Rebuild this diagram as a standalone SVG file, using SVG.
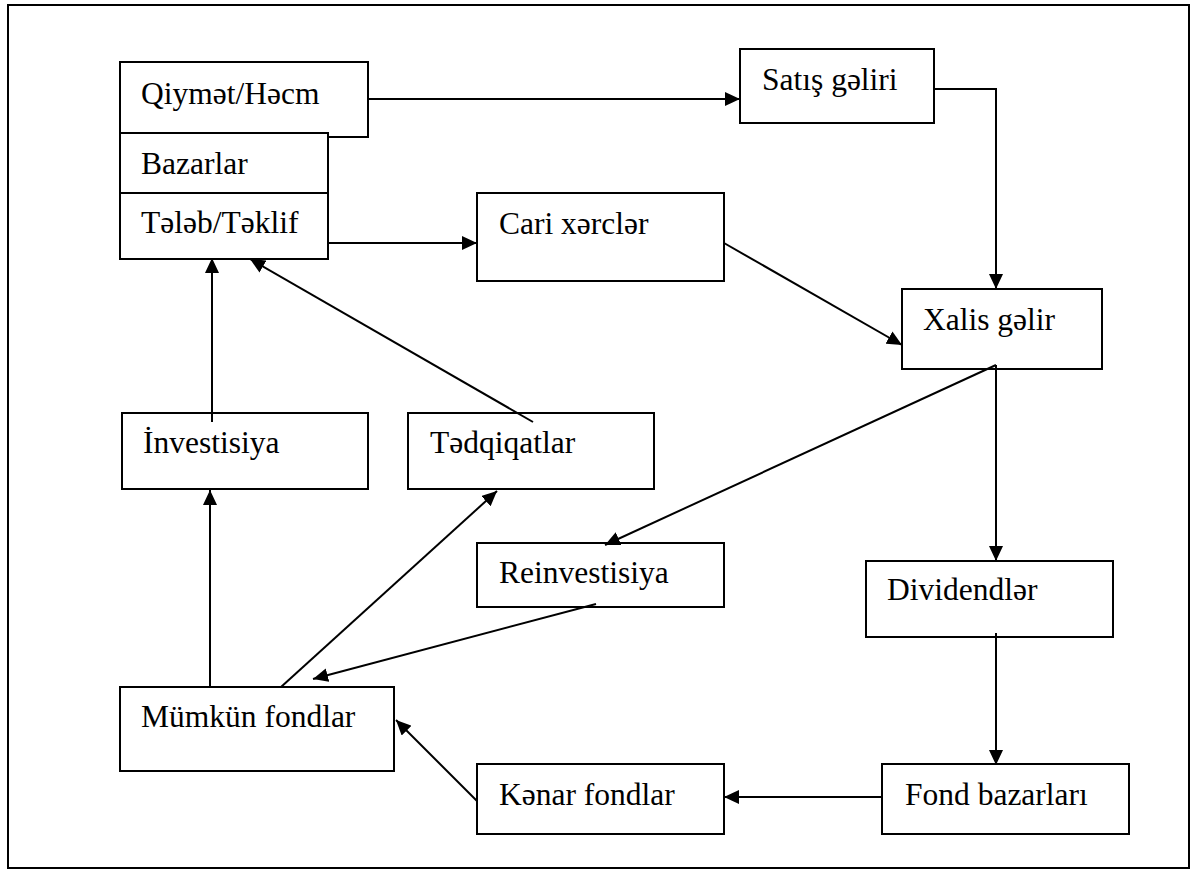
<svg xmlns="http://www.w3.org/2000/svg" width="1195" height="870" viewBox="0 0 1195 870">
<style>
rect.b{fill:#fff;stroke:#000;stroke-width:2}
text{font-family:"Liberation Serif","Times New Roman",serif;font-size:31.5px;fill:#000}
.c line,.c polyline{stroke:#000;stroke-width:2;fill:none}
</style>
<defs>
<marker id="ah" markerUnits="userSpaceOnUse" markerWidth="16" markerHeight="14" refX="15" refY="7" orient="auto">
<path d="M0,0 L15,7 L0,14 z" fill="#000"/>
</marker>
</defs>
<rect x="0" y="0" width="1195" height="870" fill="#fff"/>
<rect x="8" y="5" width="1181" height="863" fill="none" stroke="#000" stroke-width="2"/>
<g id="qiymet"><rect class="b" x="120" y="62" width="248" height="75"/><text x="141" y="104">Qiymət/Həcm</text></g>
<g id="bazarlar"><rect class="b" x="120" y="133" width="208" height="60"/><text x="141" y="174">Bazarlar</text></g>
<g id="teleb"><rect class="b" x="120" y="193" width="208" height="66"/><text x="141" y="233">Tələb/Təklif</text></g>
<g id="satis"><rect class="b" x="740" y="49" width="194" height="74"/><text x="762" y="90">Satış gəliri</text></g>
<g id="cari"><rect class="b" x="477" y="193" width="247" height="88"/><text x="499" y="234">Cari xərclər</text></g>
<g id="xalis"><rect class="b" x="902" y="289" width="200" height="80"/><text x="923" y="330">Xalis gəlir</text></g>
<g id="investisiya"><rect class="b" x="122" y="413" width="246" height="76"/><text x="143" y="453">İnvestisiya</text></g>
<g id="tedqiqatlar"><rect class="b" x="408" y="413" width="246" height="76"/><text x="430" y="453">Tədqiqatlar</text></g>
<g id="reinvestisiya"><rect class="b" x="477" y="543" width="247" height="64"/><text x="499" y="583">Reinvestisiya</text></g>
<g id="dividendler"><rect class="b" x="866" y="561" width="247" height="76"/><text x="887" y="600">Dividendlər</text></g>
<g id="mumkun"><rect class="b" x="120" y="687" width="274" height="84"/><text x="141" y="727">Mümkün fondlar</text></g>
<g id="kenar"><rect class="b" x="477" y="764" width="247" height="70"/><text x="499" y="805">Kənar fondlar</text></g>
<g id="fond"><rect class="b" x="882" y="764" width="247" height="70"/><text x="905" y="805">Fond bazarları</text></g>
<g class="c" id="connectors">
<line x1="368" y1="99" x2="740" y2="99" marker-end="url(#ah)"/>
<polyline points="934,89 996,89 996,289" marker-end="url(#ah)"/>
<line x1="328" y1="243" x2="477" y2="243" marker-end="url(#ah)"/>
<line x1="724" y1="243" x2="902" y2="345" marker-end="url(#ah)"/>
<line x1="996" y1="365" x2="996" y2="561" marker-end="url(#ah)"/>
<line x1="996" y1="365" x2="605" y2="545" marker-end="url(#ah)"/>
<line x1="996" y1="633" x2="996" y2="765" marker-end="url(#ah)"/>
<line x1="882" y1="797" x2="724" y2="797" marker-end="url(#ah)"/>
<line x1="477" y1="801" x2="396" y2="720" marker-end="url(#ah)"/>
<line x1="596" y1="604" x2="313" y2="679" marker-end="url(#ah)"/>
<line x1="281" y1="687" x2="497" y2="491" marker-end="url(#ah)"/>
<line x1="210" y1="687" x2="210" y2="490" marker-end="url(#ah)"/>
<line x1="212" y1="422" x2="212" y2="258" marker-end="url(#ah)"/>
<line x1="533" y1="422" x2="250" y2="259" marker-end="url(#ah)"/>
</g>
</svg>
